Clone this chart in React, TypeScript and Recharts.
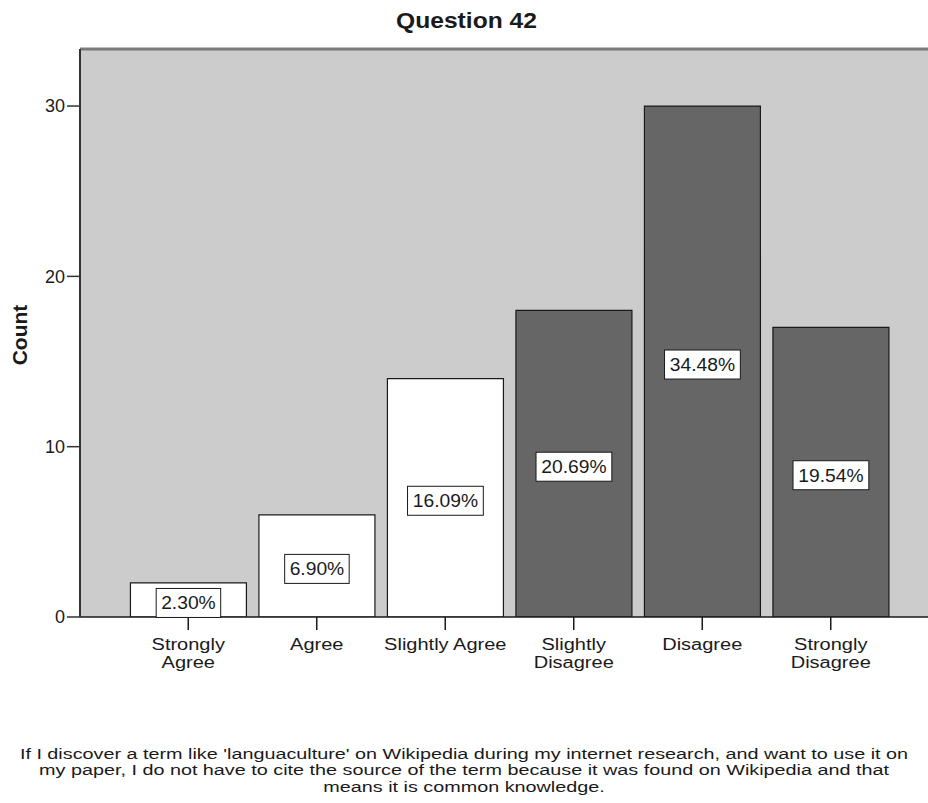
import React from "react";
import {
  BarChart,
  Bar,
  XAxis,
  YAxis,
  CartesianGrid,
  Cell,
  LabelList,
  ReferenceLine,
} from "recharts";

const categories = [
  "Strongly Agree",
  "Agree",
  "Slightly Agree",
  "Slightly Disagree",
  "Disagree",
  "Strongly Disagree",
];
const tickLines = [
  ["Strongly", "Agree"],
  ["Agree"],
  ["Slightly Agree"],
  ["Slightly", "Disagree"],
  ["Disagree"],
  ["Strongly", "Disagree"],
];
const counts = [2, 6, 14, 18, 30, 17];
const percentLabels = ["2.30%", "6.90%", "16.09%", "20.69%", "34.48%", "19.54%"];
const sides = ["agree", "agree", "agree", "disagree", "disagree", "disagree"];
const yTicks = [0, 10, 20, 30];
const yMax = 33.35;

const title = "Question 42";
const yLabel = "Count";
const footerLines = [
  "If I discover a term like 'languaculture' on Wikipedia during my internet research, and want to use it on",
  "my paper, I do not have to cite the source of the term because it was found on Wikipedia and that",
  "means it is common knowledge.",
];

const data = categories.map((c, i) => ({
  category: c,
  count: counts[i],
  pct: percentLabels[i],
  side: sides[i],
}));

const FONT = "'Liberation Sans', Arial, sans-serif";
const TEXT = "#1a1a1a";

const StretchText = (props: any) => {
  const { x, y, sx, size, bold, children, anchor } = props;
  return (
    <text
      transform={`translate(${x},${y}) scale(${sx},1)`}
      textAnchor={anchor || "middle"}
      fontSize={size}
      fontWeight={bold ? "bold" : "normal"}
      fontFamily={FONT}
      fill={TEXT}
    >
      {children}
    </text>
  );
};

const XTick = (props: any) => {
  const { x, y, payload, index } = props;
  const lines = tickLines[index] || [payload.value];
  return (
    <g>
      {lines.map((l: string, i: number) => (
        <StretchText key={i} x={x} y={y + 18 + i * 17.5} sx={1.25} size={16}>
          {l}
        </StretchText>
      ))}
    </g>
  );
};

const PctLabel = (props: any) => {
  const { x, y, width, height, index } = props;
  const text = percentLabels[index];
  const cx = x + width / 2;
  const cy = y + height / 2 + 3;
  const w = text.length * 11.3 + 8;
  const h = 29;
  return (
    <g>
      <rect
        x={cx - w / 2}
        y={cy - h / 2}
        width={w}
        height={h}
        fill="#ffffff"
        stroke="#1a1a1a"
        strokeWidth={1}
      />
      <StretchText x={cx} y={cy + 6.5} sx={1.07} size={18}>
        {text}
      </StretchText>
    </g>
  );
};

export default function App() {
  return (
    <div
      style={{
        position: "absolute",
        left: 0,
        top: 0,
        width: 928,
        height: 803,
        overflow: "hidden",
        background: "#ffffff",
        fontFamily: FONT,
      }}
    >
      <div style={{ position: "absolute", left: 0, top: 0 }}>
        <BarChart
          width={940}
          height={803}
          data={data}
          margin={{ top: 49, right: 1, bottom: 126, left: 0 }}
          barCategoryGap="5%"
        >
          <CartesianGrid horizontal={false} vertical={false} fill="#cccccc" />
          <ReferenceLine y={yMax} stroke="#7a7a7a" strokeWidth={3} ifOverflow="extendDomain" />
          <XAxis
            dataKey="category"
            interval={0}
            padding={{ left: 44, right: 44 }}
            height={60}
            tickSize={13}
            axisLine={{ stroke: "#1a1a1a", strokeWidth: 1.5 }}
            tickLine={{ stroke: "#1a1a1a", strokeWidth: 1.5 }}
            tick={<XTick />}
          />
          <YAxis
            width={80}
            domain={[0, yMax]}
            ticks={yTicks}
            allowDataOverflow
            tickSize={13}
            tickMargin={2}
            axisLine={{ stroke: "#333333", strokeWidth: 2 }}
            tickLine={{ stroke: "#333333", strokeWidth: 1.5 }}
            tick={{ fontSize: 18, fill: TEXT, fontFamily: FONT }}
          />
          <Bar dataKey="count" isAnimationActive={false} stroke="#1a1a1a" strokeWidth={1.2}>
            {data.map((d, i) => (
              <Cell key={i} fill={d.side === "agree" ? "#ffffff" : "#666666"} />
            ))}
            <LabelList dataKey="pct" content={<PctLabel />} />
          </Bar>
        </BarChart>
      </div>
      <svg
        width={928}
        height={803}
        style={{ position: "absolute", left: 0, top: 0, pointerEvents: "none" }}
      >
        <StretchText x={466.5} y={28} sx={1.12} size={22} bold>
          {title}
        </StretchText>
        <text
          transform="translate(27,335) rotate(-90)"
          textAnchor="middle"
          fontSize={21}
          fontWeight="bold"
          fontFamily={FONT}
          fill={TEXT}
        >
          {yLabel}
        </text>
        {footerLines.map((l, i) => (
          <StretchText key={i} x={464} y={759 + i * 16.3} sx={1.32} size={15}>
            {l}
          </StretchText>
        ))}
      </svg>
    </div>
  );
}
